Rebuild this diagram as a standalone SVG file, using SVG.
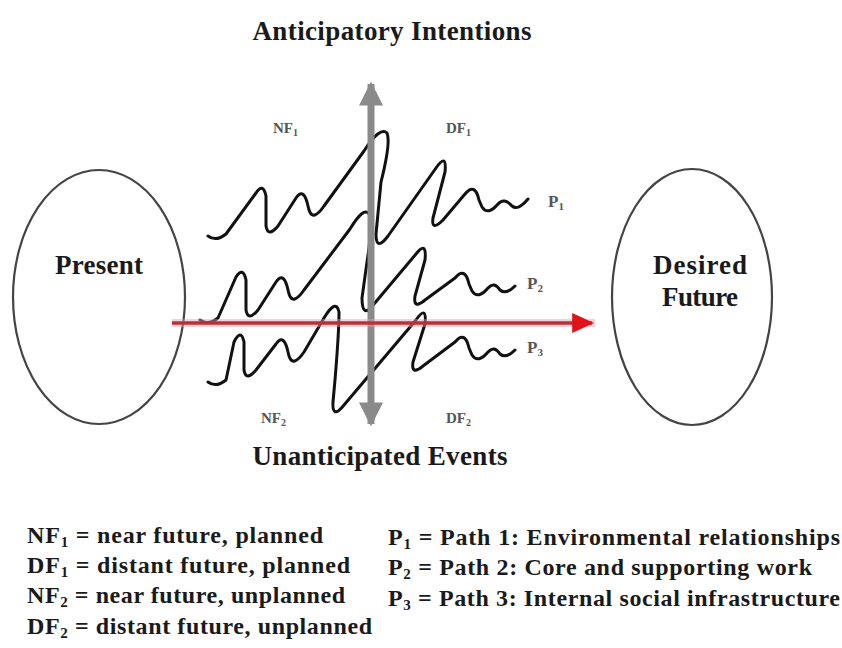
<svg xmlns="http://www.w3.org/2000/svg" width="842" height="648" viewBox="0 0 842 648">
<defs>
<style>
.t{font-family:"Liberation Serif","Times New Roman",serif;font-weight:bold;fill:#1a1a1a}
.big{font-size:27px}
.leg{font-size:24px}
.sm{font-size:15px;fill:#555}
.pl{font-size:17px;fill:#555}
.node{fill:#fff;stroke:#444;stroke-width:2.2}
.sq{fill:none;stroke:#111;stroke-width:3;stroke-linecap:round;stroke-linejoin:round}
</style>
<marker id="gh" viewBox="0 0 10 10" refX="9" refY="5" markerWidth="24" markerHeight="24" markerUnits="userSpaceOnUse" orient="auto-start-reverse">
<path d="M0,0 L10,5 L0,10 Z" fill="#8a8a8a"/>
</marker>
<marker id="rh" viewBox="0 0 10 10" refX="9" refY="5" markerWidth="22" markerHeight="20" markerUnits="userSpaceOnUse" orient="auto" preserveAspectRatio="none">
<path d="M0,0 L10,5 L0,10 Z" fill="#e0121c"/>
</marker>
</defs>
<rect width="842" height="648" fill="#fff"/>

<g id="present">
<ellipse class="node" cx="99" cy="297" rx="86" ry="127"/>
<text class="t big" x="99" y="274" text-anchor="middle" textLength="88">Present</text>
</g>

<g id="desired-future">
<ellipse class="node" cx="692" cy="297" rx="80" ry="128"/>
<text class="t big" x="700" y="274" text-anchor="middle" textLength="94">Desired</text>
<text class="t big" x="700" y="306" text-anchor="middle" textLength="76">Future</text>
</g>

<g id="axis-labels">
<text class="t big" x="392" y="40" text-anchor="middle" textLength="279">Anticipatory Intentions</text>
<text class="t big" x="380" y="465" text-anchor="middle" textLength="255">Unanticipated Events</text>
<text class="t sm" x="273" y="133">NF<tspan font-size="10" dy="3">1</tspan></text>
<text class="t sm" x="446" y="133">DF<tspan font-size="10" dy="3">1</tspan></text>
<text class="t sm" x="261" y="423">NF<tspan font-size="10" dy="3">2</tspan></text>
<text class="t sm" x="446" y="423">DF<tspan font-size="10" dy="3">2</tspan></text>
</g>

<g id="paths">
<path class="sq" d="M208,236 Q216,242 226,234 L256,193 Q263,182 266,196 L266,226 Q268,238 278,226 L296,198 Q303,188 307,202 L309,210 Q313,222 324,206 L364,151 Q380,126 387,133 Q391,142 381,182 L376,234 Q376,252 388,236 L436,168 Q447,152 445,172 L433,218 Q431,232 443,220 L465,194 Q475,182 479,200 L482,207 Q488,216 498,204 Q504,197 512,206 Q518,211 528,199"/>
<path class="sq" d="M200,320 Q208,326 218,318 L236,277 Q243,266 246,280 L246,310 Q248,322 258,310 L276,282 Q283,272 287,286 L289,294 Q293,306 304,290 L350,229 Q364,206 369,214 Q373,224 367,262 L362,298 Q362,320 374,304 L416,254 Q427,240 425,260 L415,296 Q413,310 425,300 L455,278 Q465,266 469,284 L472,291 Q478,300 488,288 Q494,281 500,290 Q506,295 515,286"/>
<path class="sq" d="M208,382 Q216,388 226,380 L234,342 Q241,328 244,342 L244,370 Q246,382 256,370 L276,344 Q283,334 287,348 L289,356 Q293,368 304,352 L324,318 Q336,298 339,312 Q339,332 335,380 L333,402 Q332,420 344,405 L416,320 Q427,304 425,324 L413,362 Q411,376 423,366 L455,342 Q465,330 469,348 L472,355 Q478,364 488,352 Q494,345 500,354 Q506,359 515,350"/>
<text class="t pl" x="548" y="207">P<tspan font-size="11" dy="3">1</tspan></text>
<text class="t pl" x="527" y="289">P<tspan font-size="11" dy="3">2</tspan></text>
<text class="t pl" x="527" y="353">P<tspan font-size="11" dy="3">3</tspan></text>
</g>

<g id="connectors">
<line x1="371" y1="84" x2="371" y2="424" stroke="#8a8a8a" stroke-width="7" marker-start="url(#gh)" marker-end="url(#gh)"/>
<line x1="172" y1="323" x2="595" y2="323" stroke="#e8a0a8" stroke-width="8" opacity="0.45"/>
<line x1="172" y1="323" x2="592" y2="323" stroke="#b8303c" stroke-width="3.5" marker-end="url(#rh)"/>
</g>

<g id="legend">
<text class="t leg" x="27" y="543" textLength="296">NF<tspan font-size="15" dy="4">1</tspan><tspan dy="-4"> = near future, planned</tspan></text>
<text class="t leg" x="27" y="573" textLength="323">DF<tspan font-size="15" dy="4">1</tspan><tspan dy="-4"> = distant future, planned</tspan></text>
<text class="t leg" x="27" y="603" textLength="318">NF<tspan font-size="15" dy="4">2</tspan><tspan dy="-4"> = near future, unplanned</tspan></text>
<text class="t leg" x="27" y="634" textLength="345">DF<tspan font-size="15" dy="4">2</tspan><tspan dy="-4"> = distant future, unplanned</tspan></text>
<text class="t leg" x="388" y="545" textLength="452">P<tspan font-size="15" dy="4">1</tspan><tspan dy="-4"> = Path 1: Environmental relationships</tspan></text>
<text class="t leg" x="388" y="575" textLength="424">P<tspan font-size="15" dy="4">2</tspan><tspan dy="-4"> = Path 2: Core and supporting work</tspan></text>
<text class="t leg" x="388" y="606" textLength="452">P<tspan font-size="15" dy="4">3</tspan><tspan dy="-4"> = Path 3: Internal social infrastructure</tspan></text>
</g>
</svg>
